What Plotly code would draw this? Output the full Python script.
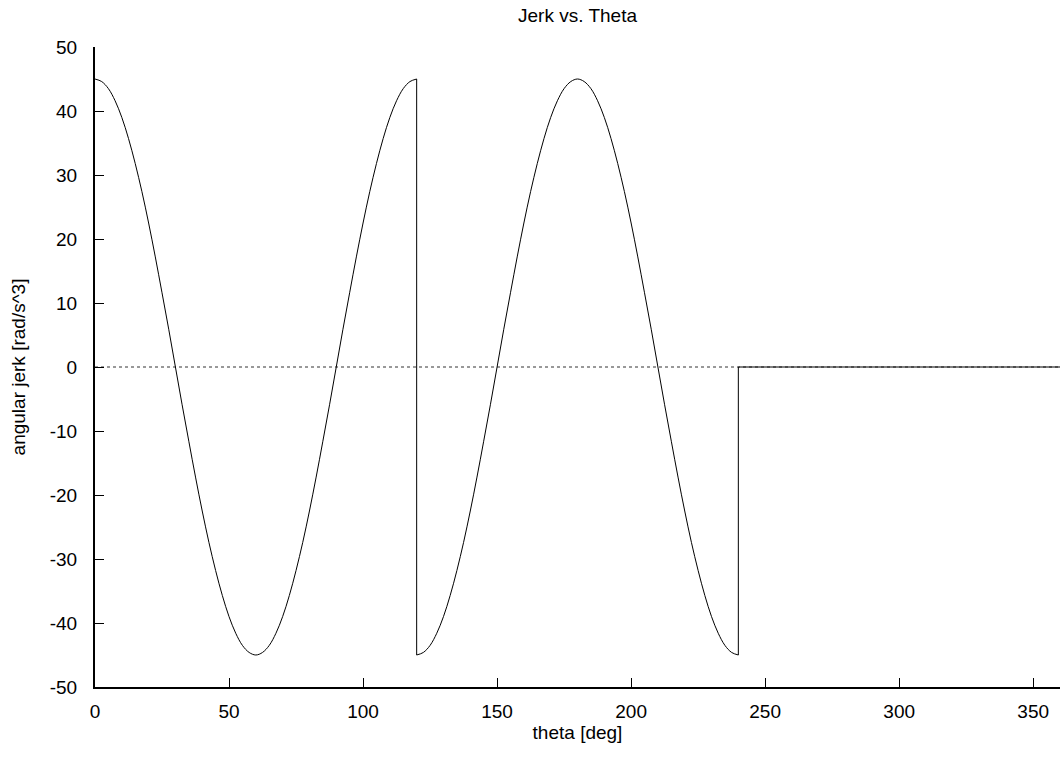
import plotly.graph_objects as go

# theta [deg] and angular jerk [rad/s^3]
theta_a = [0, 2.5, 5, 7.5, 10, 12.5, 15, 17.5, 20, 22.5, 25, 27.5, 30, 32.5, 35, 37.5, 40, 42.5, 45, 47.5,
           50, 52.5, 55, 57.5, 60, 62.5, 65, 67.5, 70, 72.5, 75, 77.5, 80, 82.5, 85, 87.5, 90, 92.5, 95, 97.5,
           100, 102.5, 105, 107.5, 110, 112.5, 115, 117.5, 120]
jerk_a = [45, 44.6, 43.5, 41.6, 39.0, 35.7, 31.8, 27.4, 22.5, 17.2, 11.6, 5.9, 0,
          -5.9, -11.6, -17.2, -22.5, -27.4, -31.8, -35.7, -39.0, -41.6, -43.5, -44.6, -45,
          -44.6, -43.5, -41.6, -39.0, -35.7, -31.8, -27.4, -22.5, -17.2, -11.6, -5.9, 0,
          5.9, 11.6, 17.2, 22.5, 27.4, 31.8, 35.7, 39.0, 41.6, 43.5, 44.6, 45]
theta_b = [120, 122.5, 125, 127.5, 130, 132.5, 135, 137.5, 140, 142.5, 145, 147.5, 150, 152.5, 155, 157.5,
           160, 162.5, 165, 167.5, 170, 172.5, 175, 177.5, 180, 182.5, 185, 187.5, 190, 192.5, 195, 197.5,
           200, 202.5, 205, 207.5, 210, 212.5, 215, 217.5, 220, 222.5, 225, 227.5, 230, 232.5, 235, 237.5, 240]
jerk_b = [-45, -44.6, -43.5, -41.6, -39.0, -35.7, -31.8, -27.4, -22.5, -17.2, -11.6, -5.9, 0,
          5.9, 11.6, 17.2, 22.5, 27.4, 31.8, 35.7, 39.0, 41.6, 43.5, 44.6, 45,
          44.6, 43.5, 41.6, 39.0, 35.7, 31.8, 27.4, 22.5, 17.2, 11.6, 5.9, 0,
          -5.9, -11.6, -17.2, -22.5, -27.4, -31.8, -35.7, -39.0, -41.6, -43.5, -44.6, -45]
theta_c = [240, 360]
jerk_c = [0, 0]
theta_jumps = [120, 120, None, 240, 240]
jerk_jumps = [45, -45, None, -45, 0]

x_ticks = [0, 50, 100, 150, 200, 250, 300, 350]
x_labels = ["0", "50", "100", "150", "200", "250", "300", "350"]
y_ticks = [-50, -40, -30, -20, -10, 0, 10, 20, 30, 40, 50]
y_labels = ["-50", "-40", "-30", "-20", "-10", "0", "10", "20", "30", "40", "50"]

line = dict(color="black", width=1)
fig = go.Figure()
fig.add_trace(go.Scatter(x=theta_a, y=jerk_a, mode="lines", line=dict(line, shape="spline"), showlegend=False))
fig.add_trace(go.Scatter(x=theta_b, y=jerk_b, mode="lines", line=dict(line, shape="spline"), showlegend=False))
fig.add_trace(go.Scatter(x=theta_jumps, y=jerk_jumps, mode="lines", line=line, showlegend=False))
fig.add_trace(go.Scatter(x=theta_c, y=jerk_c, mode="lines", line=line, showlegend=False))

fig.add_shape(type="line", xref="x", yref="y", x0=0, x1=360, y0=0, y1=0,
              line=dict(color="#333333", width=1, dash="dot"), layer="below")

font = dict(family="Liberation Sans, Arial, sans-serif", size=19, color="black")
fig.update_layout(
    width=1062, height=759,
    margin=dict(l=95, r=2, t=47, b=72),
    paper_bgcolor="white", plot_bgcolor="white",
    font=font,
    title=dict(text="Jerk vs. Theta", x=0.5, xref="paper", xanchor="center",
               y=1 - 15 / 759, yref="container", yanchor="middle", font=font),
    xaxis=dict(range=[0, 360], tickvals=x_ticks, ticktext=x_labels, ticks="inside", ticklen=9, tickwidth=1,
               tickcolor="black", showline=True, linecolor="black", linewidth=2,
               showgrid=False, zeroline=False, ticklabelstandoff=6,
               title=dict(text="theta [deg]", standoff=1, font=font), tickfont=font),
    yaxis=dict(range=[-50, 50], tickvals=y_ticks, ticktext=y_labels, ticks="inside", ticklen=9, tickwidth=1,
               tickcolor="black", showline=True, linecolor="black", linewidth=2,
               showgrid=False, zeroline=False, ticklabelstandoff=12,
               title=dict(text="angular jerk [rad/s^3]", standoff=19, font=font), tickfont=font),
)

fig.write_html("out.html", config={"displayModeBar": False},
               post_script="document.body.style.margin='0px';")
